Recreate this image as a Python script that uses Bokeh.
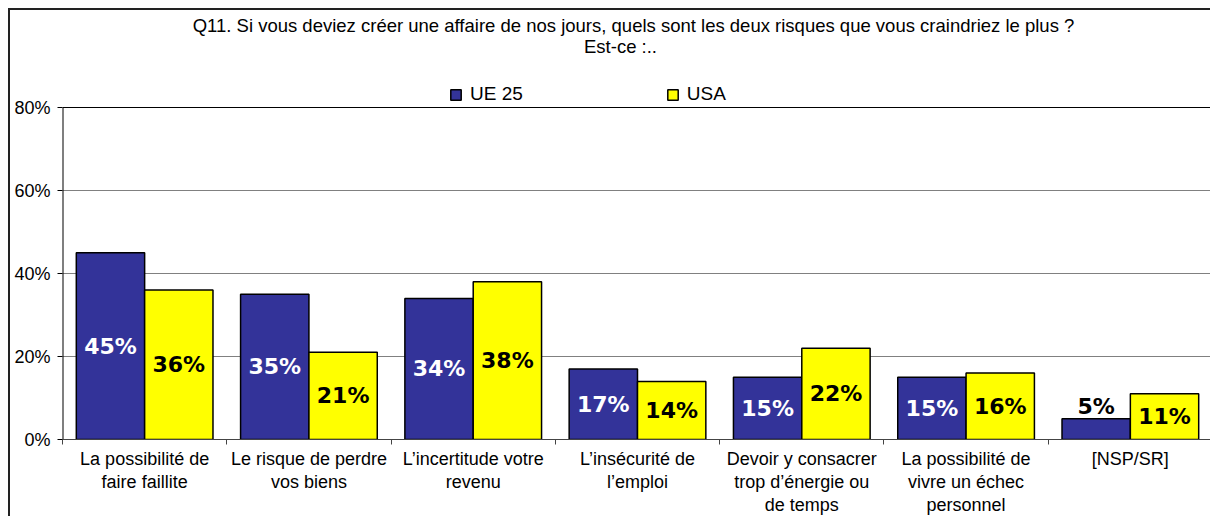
from bokeh.plotting import figure
from bokeh.models import FixedTicker, Range1d, Legend, LegendItem, Label, Span
from bokeh.core.properties import value
from bokeh.embed import file_html
from bokeh.resources import INLINE
import numpy as np

# ---- data ----
categories = [
    "La possibilité de\nfaire faillite",
    "Le risque de perdre\nvos biens",
    "L’incertitude votre\nrevenu",
    "L’insécurité de\nl’emploi",
    "Devoir y consacrer\ntrop d’énergie ou\nde temps",
    "La possibilité de\nvivre un échec\npersonnel",
    "[NSP/SR]",
]
ue25 = [45, 35, 34, 17, 15, 15, 5]
usa = [36, 21, 38, 14, 22, 16, 11]
series_names = ["UE 25", "USA"]
y_ticks = [0, 20, 40, 60, 80]
y_tick_labels = ["0%", "20%", "40%", "60%", "80%"]
title_line1 = ("Q11. Si vous deviez créer une affaire de nos jours, quels sont les deux risques "
               "que vous craindriez le plus ?")
title_line2 = "Est-ce :.."

BLUE = "#333399"
YELLOW = "#FFFF00"
FONT = "Liberation Sans"

# ---- layout constants (pixels) ----
W, H = 1202, 508            # canvas inside an 8px margin + 2px CSS border
LEFT, BOTTOM = 52, 79       # side panels
FRAME_H = H - BOTTOM        # frame runs from canvas top to the x axis
PLOT_H = 332                # height of the 0..80% plot area
y_top = y_ticks[-1]
y_end = y_top * FRAME_H / PLOT_H
px = PLOT_H / y_top         # pixels per percentage point

n = len(categories)
centers = np.arange(n) + 0.5
bw = 0.416
off = 0.208

p = figure(width=W, height=H, title=None,
           x_range=Range1d(0, n), y_range=Range1d(0, y_end),
           output_backend="svg", toolbar_location=None,
           min_border_left=LEFT, min_border_top=0, min_border_right=0, min_border_bottom=BOTTOM,
           styles={"margin-left": "8px", "margin-top": "8px",
                   "border-left": "2px solid #222222", "border-top": "2px solid #222222"})

p.outline_line_color = None

r1 = p.vbar(x=centers - off, top=ue25, width=bw, bottom=0,
            fill_color=BLUE, line_color="black", line_width=1.5)
r2 = p.vbar(x=centers + off, top=usa, width=bw, bottom=0,
            fill_color=YELLOW, line_color="black", line_width=1.5)

# value labels
def label_layout(vals, inside_color):
    ys, cols = [], []
    for v in vals:
        if v >= 8:
            ys.append(v / 2.0)
            cols.append(inside_color)
        else:
            ys.append(v + 12 / px)
            cols.append("black")
    return ys, cols

for xs, vals, col in [(centers - off, ue25, "white"), (centers + off, usa, "black")]:
    ys, cols = label_layout(vals, col)
    p.text(x=xs, y=ys, text=[f"{v}%" for v in vals], text_color=cols,
           text_font=value("DejaVu Sans"), text_font_style="bold", text_font_size="22px",
           text_align="center", text_baseline="middle")

# axes
xa = p.xaxis[0]
xa.ticker = FixedTicker(ticks=list(centers), minor_ticks=list(range(n + 1)))
xa.major_label_overrides = {float(c): lab for c, lab in zip(centers, categories)}
xa.major_tick_out = 0
xa.major_tick_in = 0
xa.minor_tick_out = 5
xa.minor_tick_in = 0
xa.axis_line_color = "#444444"
xa.minor_tick_line_color = "#444444"
xa.major_label_text_font = FONT
xa.major_label_text_font_size = "18px"
xa.major_label_text_color = "black"
xa.major_label_text_line_height = 1.17
xa.major_label_standoff = 4

ya = p.yaxis[0]
ya.ticker = FixedTicker(ticks=y_ticks)
ya.major_label_overrides = {t: l for t, l in zip(y_ticks, y_tick_labels)}
ya.major_tick_out = 5
ya.major_tick_in = 0
ya.minor_tick_line_color = None
ya.axis_line_color = None
ya.major_tick_line_color = "black"
ya.major_label_text_font = FONT
ya.major_label_text_font_size = "18px"
ya.major_label_text_color = "black"
ya.major_label_standoff = 7

p.xgrid.visible = False
p.ygrid.grid_line_color = "#808080"

# value axis line (0..80%) and top edge of the plot area
p.segment(x0=[0], y0=[0], x1=[0], y1=[y_top], line_color="black", line_width=2)
p.add_layout(Span(location=y_top, dimension="width", line_color="black", line_width=1))

# legend
legend = Legend(items=[LegendItem(label=series_names[0], renderers=[r1]),
                       LegendItem(label=series_names[1], renderers=[r2])],
                orientation="horizontal", location=(387, PLOT_H + 2), margin=0,
                glyph_width=13, glyph_height=13, label_standoff=8, spacing=143,
                padding=6, border_line_color=None, background_fill_color="white",
                label_text_font=FONT, label_text_font_size="19px", label_text_color="black")
p.add_layout(legend, "center")

# two-line title
p.add_layout(Label(x=n / 2, y=(FRAME_H - 15) / px, x_offset=-4, text=title_line1,
                   text_font=FONT, text_font_size="18.5px", text_color="black",
                   text_align="center", text_baseline="middle"))
p.add_layout(Label(x=n / 2, y=(FRAME_H - 36) / px, x_offset=-17, text=title_line2,
                   text_font=FONT, text_font_size="18.5px", text_color="black",
                   text_align="center", text_baseline="middle"))

open("out.html", "w").write(file_html(p, INLINE))
